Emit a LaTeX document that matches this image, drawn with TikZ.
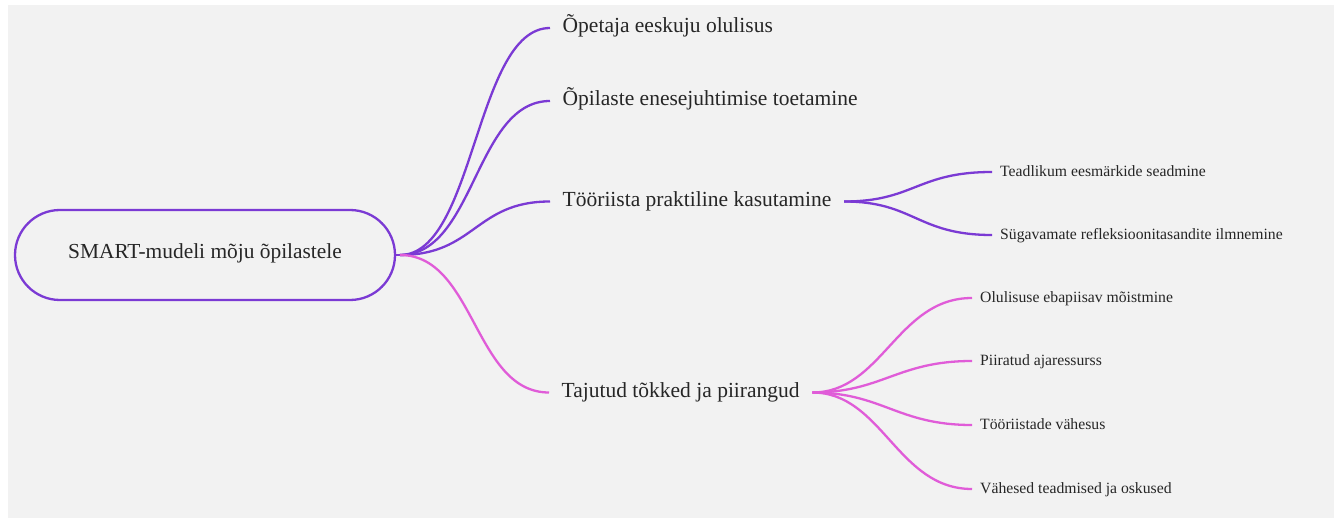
\documentclass[tikz,border=0pt]{standalone}
\usepackage{fontspec}
\setmainfont{Liberation Serif}
\definecolor{bgc}{HTML}{F2F2F2}
\definecolor{purp}{HTML}{7B3AD4}
\definecolor{pink}{HTML}{E05CD8}
\definecolor{txt}{HTML}{262626}
\begin{document}
\begin{tikzpicture}[x=1pt,y=-1pt,
  rootbox/.style={draw=purp,line width=2.3pt,rounded corners=45pt,minimum width=380pt,minimum height=90pt,
     text=txt,font=\fontsize{21.4}{24}\selectfont,text height=0.8em,text depth=0pt,inner sep=0pt},
  lvlone/.style={anchor=west,text=txt,font=\fontsize{21.5}{24}\selectfont,text height=0.98em,text depth=0pt,inner xsep=12.5pt,inner ysep=0pt},
  lvltwo/.style={anchor=west,text=txt,font=\fontsize{15.7}{18}\selectfont,text height=0.85em,text depth=0pt,inner xsep=8pt,inner ysep=0pt},
  purpline/.style={draw=purp,line width=2.3pt},
  pinkline/.style={draw=pink,line width=2.3pt}]
\useasboundingbox (0,0) rectangle (1338,518);
\fill[white] (0,0) rectangle (1338,518);
\fill[bgc] (8,5) rectangle (1334,518);

\node[rootbox] (root) at (205,255) {SMART-mudeli mõju õpilastele};
\coordinate (rc) at (400,255);

\node[lvlone] (b1) at (550,28) {Õpetaja eeskuju olulisus};
\node[lvlone] (b2) at (550,101) {Õpilaste enesejuhtimise toetamine};
\node[lvlone] (b3) at (550,201.5) {Tööriista praktiline kasutamine};
\node[lvlone] (b4) at (549,392.5) {Tajutud tõkked ja piirangud};

\node[lvltwo] (c1) at (992,172) {Teadlikum eesmärkide seadmine};
\node[lvltwo] (c2) at (992,235) {Sügavamate refleksioonitasandite ilmnemine};

\node[lvltwo] (d1) at (972,298) {Olulisuse ebapiisav mõistmine};
\node[lvltwo] (d2) at (972,361) {Piiratud ajaressurss};
\node[lvltwo] (d3) at (972,425) {Tööriistade vähesus};
\node[lvltwo] (d4) at (972,489) {Vähesed teadmised ja oskused};

\draw[purpline] (root.east) -- (rc);
\foreach \b in {b1,b2,b3}{
  \draw[purpline] (rc) .. controls ([xshift=75pt]rc) and ([xshift=-75pt]\b.west) .. (\b.west);
}
\draw[pinkline] (rc) .. controls ([xshift=75pt]rc) and ([xshift=-75pt]b4.west) .. (b4.west);

\foreach \c in {c1,c2}{
  \draw[purpline] (b3.east) .. controls ([xshift=70pt]b3.east) and ([xshift=-75pt]\c.west) .. (\c.west);
}
\foreach \d in {d1,d2,d3,d4}{
  \draw[pinkline] (b4.east) .. controls ([xshift=70pt]b4.east) and ([xshift=-75pt]\d.west) .. (\d.west);
}
\end{tikzpicture}
\end{document}
